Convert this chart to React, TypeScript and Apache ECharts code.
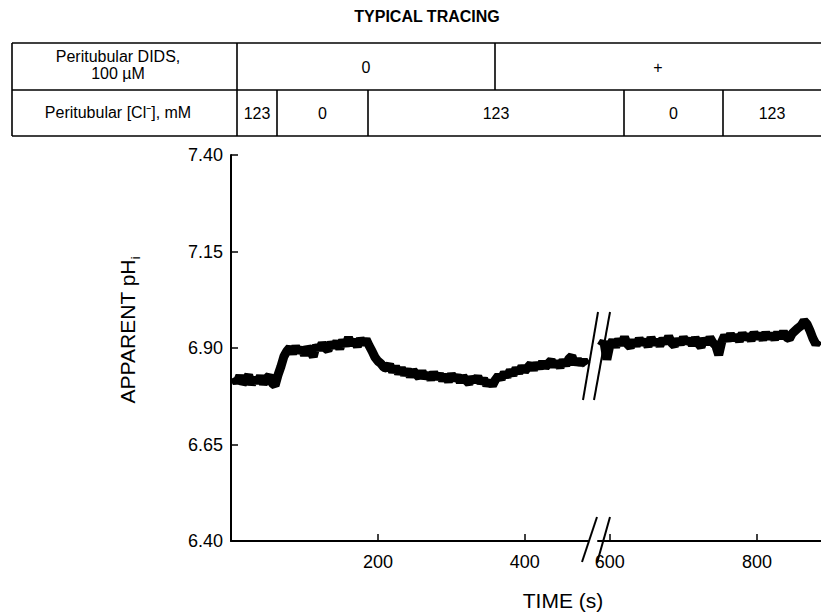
import React, { useEffect, useRef } from "react";
import * as echarts from "echarts";

const chartTitle = "TYPICAL TRACING";
const didsLabel = ["Peritubular DIDS,", "100 µM"];
const clLabel = "Peritubular [Cl⁻], mM";
const didsCells = ["0", "+"];
const clCells = ["123", "0", "123", "0", "123"];
const yTickValues = [6.4, 6.65, 6.9, 7.15, 7.4];
const xTicksBefore = [200, 400];
const xTicksAfter = [600, 800];
const xTitle = "TIME (s)";
const yTitleMain = "APPARENT pH";
const yTitleSub = "i";

// pH trace before the axis break, sampled every 4 s from t = 4 s
const seg1Start = 4;
const seg1Step = 4;
const seg1Values = [
  6.824, 6.81, 6.828, 6.808, 6.817, 6.83, 6.806, 6.822, 6.811, 6.827,
  6.807, 6.821, 6.828, 6.809, 6.803, 6.83, 6.852, 6.878, 6.892, 6.901,
  6.886, 6.904, 6.889, 6.9, 6.882, 6.902, 6.892, 6.878, 6.907, 6.896,
  6.912, 6.9, 6.894, 6.914, 6.902, 6.917, 6.898, 6.92, 6.906, 6.927,
  6.908, 6.92, 6.904, 6.924, 6.91, 6.922, 6.906, 6.892, 6.876, 6.866,
  6.86, 6.85, 6.848, 6.857, 6.838, 6.852, 6.834, 6.848, 6.831, 6.844,
  6.826, 6.842, 6.832, 6.824, 6.84, 6.822, 6.834, 6.818, 6.837, 6.821,
  6.832, 6.816, 6.83, 6.813, 6.832, 6.818, 6.828, 6.812, 6.826, 6.816,
  6.808, 6.824, 6.813, 6.826, 6.81, 6.82, 6.804, 6.814, 6.803, 6.818,
  6.828, 6.82, 6.836, 6.826, 6.842, 6.83, 6.847, 6.836, 6.852, 6.84,
  6.85, 6.858, 6.844, 6.86, 6.848, 6.864, 6.85, 6.86, 6.868, 6.853,
  6.864, 6.85, 6.868, 6.856, 6.872, 6.879, 6.858, 6.87, 6.858, 6.868,
  6.856,
];

// pH trace after the axis break, sampled every 4 s from t = 588 s
const seg2Start = 588;
const seg2Step = 4;
const seg2Values = [
  6.905, 6.917, 6.87, 6.906, 6.92, 6.903, 6.922, 6.908, 6.928, 6.91,
  6.902, 6.92, 6.906, 6.924, 6.91, 6.92, 6.904, 6.927, 6.91, 6.92,
  6.906, 6.924, 6.912, 6.93, 6.913, 6.906, 6.922, 6.91, 6.927, 6.914,
  6.922, 6.908, 6.926, 6.912, 6.903, 6.924, 6.911, 6.927, 6.914, 6.906,
  6.882, 6.915, 6.932, 6.92, 6.936, 6.922, 6.932, 6.918, 6.938, 6.924,
  6.934, 6.92, 6.94, 6.926, 6.936, 6.922, 6.939, 6.926, 6.936, 6.923,
  6.94, 6.926, 6.942, 6.928, 6.924, 6.938, 6.945, 6.952, 6.958, 6.97,
  6.962, 6.945, 6.925, 6.91, 6.92,
];

const FONT = "'Liberation Sans', Arial, Helvetica, sans-serif";

export default function App() {
  const ref = useRef<HTMLDivElement>(null);
  useEffect(() => {
    if (!ref.current) return;
    const chart = echarts.init(ref.current, null, { renderer: "svg" });

    const seg1 = seg1Values.map((v, i) => [seg1Start + i * seg1Step, v]);
    const seg2 = seg2Values.map((v, i) => [seg2Start + i * seg2Step, v]);

    const axisLine = { show: true, lineStyle: { color: "#000", width: 2 } };
    const lineEl = (x1: number, y1: number, x2: number, y2: number, w = 1.6) => ({
      type: "line",
      shape: { x1, y1, x2, y2 },
      style: { stroke: "#000", lineWidth: w },
      silent: true,
    });
    const textEl = (x: number, y: number, text: string, fontSize = 16, extra: any = {}) => ({
      type: "text",
      x,
      y,
      style: {
        text,
        fontSize,
        fontFamily: FONT,
        fill: "#000",
        align: "center",
        verticalAlign: "middle",
        ...extra,
      },
      silent: true,
    });

    // table geometry
    const tTop = 43, tMid = 90, tBot = 136, tLeft = 12, tRight = 821;
    const labelColX = 237;
    const didsDiv = [495];
    const clDivs = [277, 368, 624, 723];
    const didsEdges = [labelColX, ...didsDiv, tRight];
    const clEdges = [labelColX, ...clDivs, tRight];

    const graphics: any[] = [
      textEl(427, 16, chartTitle, 16, { fontWeight: "bold" }),
      lineEl(tLeft, tTop, tRight, tTop),
      lineEl(tLeft, tMid, tRight, tMid),
      lineEl(tLeft, tBot, tRight, tBot),
      lineEl(tLeft, tTop, tLeft, tBot),
      lineEl(labelColX, tTop, labelColX, tBot),
      ...didsDiv.map((x) => lineEl(x, tTop, x, tMid)),
      ...clDivs.map((x) => lineEl(x, tMid, x, tBot)),
      textEl(118, 56, didsLabel[0], 16),
      textEl(118, 73, didsLabel[1], 16),
      textEl(118, 112, clLabel, 16),
      ...didsCells.map((t, i) => textEl((didsEdges[i] + didsEdges[i + 1]) / 2, 67, t, 16)),
      ...clCells.map((t, i) => textEl((clEdges[i] + clEdges[i + 1]) / 2, 113, t, 16)),
      // axis break marks in the plot
      lineEl(598, 312, 583, 400, 2),
      lineEl(610, 312, 594, 400, 2),
      // axis break marks on x axis
      lineEl(597, 517, 582, 562, 2),
      lineEl(610, 517, 597, 563, 2),
      textEl(563, 600, xTitle, 21),
      {
        type: "text",
        x: 126,
        y: 330,
        rotation: Math.PI / 2,
        silent: true,
        style: {
          text: `{m|${yTitleMain}}{s|${yTitleSub}}`,
          align: "center",
          verticalAlign: "middle",
          fill: "#000",
          rich: {
            m: { fontSize: 21, fontFamily: FONT, fill: "#000", lineHeight: 24, verticalAlign: "bottom" },
            s: { fontSize: 13, fontFamily: FONT, fill: "#000", lineHeight: 24, verticalAlign: "bottom", padding: [0, 0, -4, 0] },
          },
        },
      },
    ];

    chart.setOption({
      animation: false,
      backgroundColor: "#fff",
      grid: [
        { left: 231, top: 155, width: 357, bottom: 74 },
        { left: 598, top: 155, right: 0, bottom: 74 },
      ],
      xAxis: [
        {
          type: "value",
          gridIndex: 0,
          min: 0,
          max: 486,
          axisLine,
          splitLine: { show: false },
          axisTick: { show: true, inside: true, length: 7, customValues: xTicksBefore, lineStyle: { color: "#000", width: 1.5 } },
          axisLabel: { customValues: xTicksBefore, fontSize: 18, color: "#000", fontFamily: FONT, margin: 12 },
        },
        {
          type: "value",
          gridIndex: 1,
          min: 584,
          max: 887,
          axisLine,
          splitLine: { show: false },
          axisTick: { show: true, inside: true, length: 7, customValues: xTicksAfter, lineStyle: { color: "#000", width: 1.5 } },
          axisLabel: { customValues: xTicksAfter, fontSize: 18, color: "#000", fontFamily: FONT, margin: 12 },
        },
      ],
      yAxis: [
        {
          type: "value",
          gridIndex: 0,
          min: 6.4,
          max: 7.4,
          axisLine,
          splitLine: { show: false },
          axisTick: { show: true, inside: true, length: 7, customValues: yTickValues, lineStyle: { color: "#000", width: 1.5 } },
          axisLabel: {
            customValues: yTickValues,
            formatter: (v: number) => v.toFixed(2),
            fontSize: 18,
            color: "#000",
            fontFamily: FONT,
            margin: 8,
          },
        },
        { type: "value", gridIndex: 1, min: 6.4, max: 7.4, show: false },
      ],
      series: [
        {
          type: "line",
          xAxisIndex: 0,
          yAxisIndex: 0,
          data: seg1,
          showSymbol: false,
          lineStyle: { color: "#000", width: 9 },
        },
        {
          type: "line",
          xAxisIndex: 1,
          yAxisIndex: 1,
          data: seg2,
          showSymbol: false,
          lineStyle: { color: "#000", width: 9 },
        },
      ],
      graphic: graphics,
    });

    return () => chart.dispose();
  }, []);

  return (
    <div
      ref={ref}
      style={{ position: "fixed", left: 0, top: 0, width: 821, height: 615, background: "#fff" }}
    />
  );
}
